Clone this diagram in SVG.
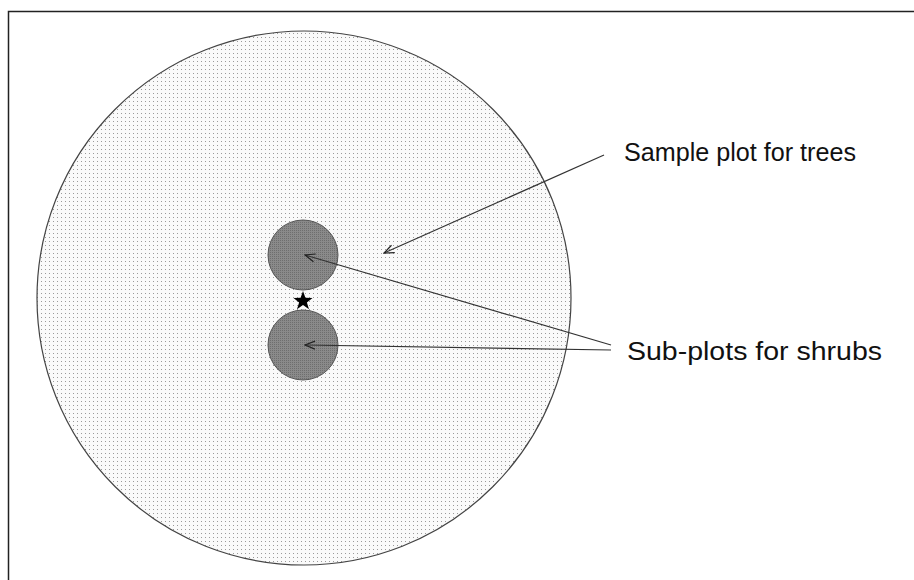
<svg xmlns="http://www.w3.org/2000/svg" width="914" height="580" viewBox="0 0 914 580">
<style>
.lbl{font-family:"Liberation Sans",Arial,sans-serif;font-size:25px;fill:#111}
.conn{stroke:#333;stroke-width:1.2;fill:none}
</style>
<defs>
<pattern id="dots" width="4" height="4" patternUnits="userSpaceOnUse">
<rect width="4" height="4" fill="#fafafa"/>
<rect x="1" y="1" width="1" height="1" fill="#9a9a9a"/>
</pattern>
<pattern id="dark" width="2" height="2" patternUnits="userSpaceOnUse">
<rect width="2" height="2" fill="#8a8a8a"/>
<rect width="1" height="1" fill="#6e6e6e"/>
</pattern>
<marker id="ah" markerWidth="12" markerHeight="10" refX="11" refY="5" orient="auto" markerUnits="userSpaceOnUse">
<path d="M1,1 L11,5 L1,9" fill="none" stroke="#222" stroke-width="1.2"/>
</marker>
</defs>
<rect width="914" height="580" fill="#fff"/>
<path d="M8.5,580 V11.5 H914" fill="none" stroke="#222" stroke-width="1.5"/>
<g id="sample-plot">
<circle cx="304" cy="298" r="267" fill="url(#dots)" stroke="#444" stroke-width="1.2"/>
</g>
<g id="subplot-upper">
<circle cx="303" cy="255" r="35" fill="url(#dark)" stroke="#555" stroke-width="1"/>
</g>
<g id="subplot-lower">
<circle cx="303" cy="345" r="35" fill="url(#dark)" stroke="#555" stroke-width="1"/>
</g>
<g id="center-star">
<polygon points="303,291 305.4,297.8 312.5,298 306.9,302.4 309,309.2 303,305.1 297,309.2 299.1,302.4 293.5,298 300.6,297.8" fill="#000"/>
</g>
<g id="connectors">
<line class="conn" x1="604" y1="155" x2="384" y2="253" marker-end="url(#ah)"/>
<line class="conn" x1="611" y1="345" x2="305" y2="255" marker-end="url(#ah)"/>
<line class="conn" x1="611" y1="350" x2="305" y2="345" marker-end="url(#ah)"/>
</g>
<g id="label-trees">
<text class="lbl" x="624" y="161" textLength="232" lengthAdjust="spacingAndGlyphs">Sample plot for trees</text>
</g>
<g id="label-shrubs">
<text class="lbl" x="627" y="360" textLength="255" lengthAdjust="spacingAndGlyphs">Sub-plots for shrubs</text>
</g>
</svg>
